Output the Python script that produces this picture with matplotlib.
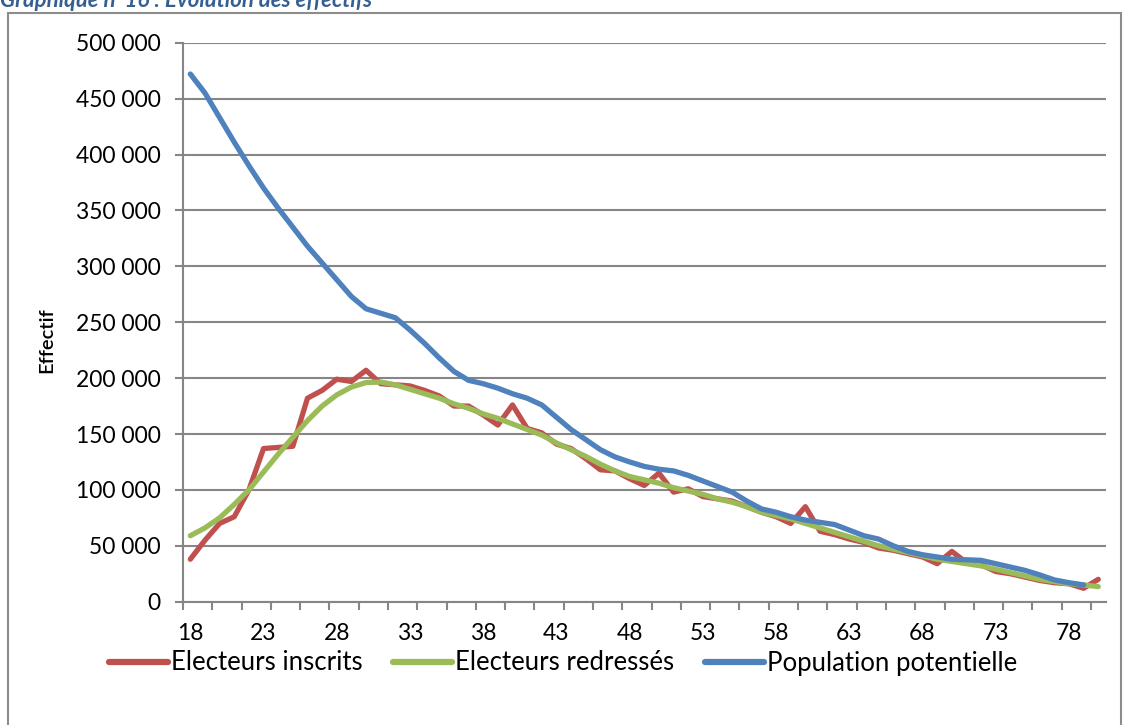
import matplotlib
matplotlib.use("Agg")
import matplotlib.pyplot as plt
import matplotlib.patches as patches
from matplotlib.ticker import FuncFormatter, FixedLocator
import numpy as np

# Ages 18 to 80
ages = list(range(18, 81))

inscrits = [38000, 55000, 70000, 76000, 100000, 137000, 138000, 139000, 182000, 189000,
            199000, 197000, 207000, 195000, 194000, 193000, 189000, 184000, 175000, 175000,
            167000, 158000, 176000, 155000, 151000, 141000, 137000, 128000, 118000, 117000,
            110000, 104000, 115000, 98000, 101000, 94000, 92000, 90000, 85000, 80000,
            76000, 70000, 85000, 63000, 60000, 56000, 53000, 48000, 46000, 43000,
            40000, 34000, 45000, 35000, 33000, 27000, 25000, 22000, 19000, 17000,
            16000, 12000, 20000]

redresses = [59000, 66000, 75000, 87000, 100000, 116000, 132000, 147000, 162000, 175000,
             185000, 192000, 196000, 196500, 194000, 190000, 186000, 182000, 177000, 173000,
             168000, 164000, 159000, 154000, 149000, 142000, 136000, 130000, 123000, 117000,
             112000, 109000, 106000, 102000, 99000, 96000, 92000, 89000, 85000, 80000,
             77000, 74000, 70000, 66000, 62000, 58000, 54000, 50000, 47000, 44000,
             41000, 38000, 36000, 34000, 32000, 29000, 26000, 23000, 20000, 18000,
             16000, 15000, 13500]

# no value for age 80
population = [472000, 455000, 433000, 411000, 390000, 370000, 352000, 335000, 318000, 303000,
              288000, 273000, 262000, 258000, 254000, 243000, 231000, 218000, 206000, 198000,
              195000, 191000, 186000, 182000, 176000, 165000, 154000, 145000, 136000, 129500,
              125000, 121000, 118500, 117000, 113000, 108000, 103000, 98000, 90000, 83000,
              80000, 76000, 73000, 71000, 69000, 64000, 59000, 56000, 50000, 45000,
              42000, 40000, 38000, 37500, 37000, 34000, 31000, 28000, 24000, 19500,
              17000, 15000, np.nan]

series = [("Electeurs inscrits", inscrits, "#C0504D"),
          ("Electeurs redressés", redresses, "#9BBB59"),
          ("Population potentielle", population, "#4F81BD")]

plt.rcParams["font.family"] = ["Lato", "DejaVu Sans"]
grey = "#868686"

fig = plt.figure(figsize=(11.26, 7.25), dpi=100)
ax = fig.add_axes([183 / 1126, 1 - 601.7 / 725, (1105.6 - 183) / 1126, (601.7 - 42.7) / 725])

x = np.arange(len(ages))
for name, vals, color in series:
    ax.plot(x, vals, color=color, lw=3.8, label=name, solid_capstyle="round",
            solid_joinstyle="round")

ax.set_xlim(-0.5, len(ages) - 0.5)
ax.set_ylim(0, 500000)

# category axis: labels every 5 ages, tick marks every 2 categories
label_pos = x[::5]
ax.set_xticks(label_pos)
ax.set_xticklabels([str(ages[i]) for i in label_pos])
ax.tick_params(axis="x", which="major", length=0, pad=15, labelsize=16.5)
ax.xaxis.set_minor_locator(FixedLocator(np.arange(-0.5, len(ages), 2)))
ax.tick_params(axis="x", which="minor", length=6, width=1.5, color=grey, direction="out")

ax.set_yticks(np.arange(0, 500001, 50000))
ax.yaxis.set_major_formatter(FuncFormatter(lambda v, p: f"{int(v):,}".replace(",", " ")))
ax.tick_params(axis="y", length=6, width=1.5, color=grey, pad=10, labelsize=16.5)
ax.grid(axis="y", color=grey, lw=1.5)
ax.set_axisbelow(True)

for side in ["top", "right"]:
    ax.spines[side].set_visible(False)
for side in ["left", "bottom"]:
    ax.spines[side].set_color(grey)
    ax.spines[side].set_linewidth(1.5)

fig.text(47 / 1126, 1 - 340 / 725, "Effectif", rotation=90, ha="center", va="center",
         fontsize=14.5, fontweight="semibold")

leg = fig.legend(loc="center", bbox_to_anchor=(563 / 1126, 1 - 663 / 725), ncol=3,
                 frameon=False, fontsize=18.5, handlelength=2.3, handletextpad=0.1,
                 columnspacing=1.2)
for h in leg.get_lines():
    h.set_linewidth(4.5)

# chart frame and caption above it
fig.patches.append(patches.Rectangle((8 / 1126, -0.05), (1121 - 8) / 1126, 1.05 - 13 / 725,
                                     transform=fig.transFigure, fill=False,
                                     edgecolor="#8C8C8C", lw=1.5))
fig.text(0.0, 1 - 7 / 725, "Graphique n°16 : Evolution des effectifs", ha="left",
         va="baseline", fontsize=16, fontweight="bold", style="italic", color="#365F91")

fig.savefig("out.png", dpi=100)
